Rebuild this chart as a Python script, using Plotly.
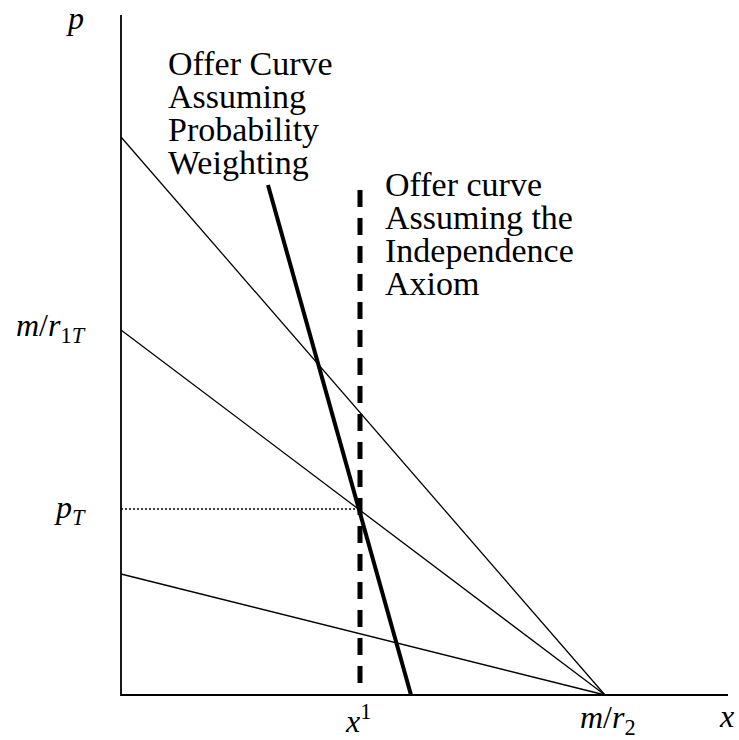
import plotly.graph_objects as go

# ---- data (schematic units: origin at axis corner) ----
m_over_r2 = 484                      # common x-intercept of budget lines
budget_p_intercepts = [558, 365, 121]  # p-intercepts of the three budget lines
x_prime = 239                         # x' (independence axiom offer curve)
p_T = 186                             # p_T
pw_curve_x = [147, 290]               # offer curve assuming probability weighting
pw_curve_y = [510, 0]
ia_curve_top = 505                    # top of dashed offer curve
x_axis_end = 607
y_axis_end = 680

tick_x_labels = ["<i>x</i><sup>1</sup>", "<i>m</i>/<i>r</i><sub>2</sub>", "<i>x</i>"]
tick_y_labels = ["<i>p</i>", "<i>m</i>/<i>r</i><sub>1<i>T</i></sub>", "<i>p<sub>T</sub></i>"]
label_pw = ["Offer Curve", "Assuming", "Probability", "Weighting"]
label_ia = ["Offer curve", "Assuming the", "Independence", "Axiom"]

fig = go.Figure()

# axes
fig.add_trace(go.Scatter(x=[0, 0, x_axis_end], y=[y_axis_end, 0, 0], mode="lines",
                         line=dict(color="black", width=1.8), hoverinfo="skip"))

# budget lines
for b in budget_p_intercepts:
    fig.add_trace(go.Scatter(x=[0, m_over_r2], y=[b, 0], mode="lines",
                             line=dict(color="black", width=1.3), hoverinfo="skip"))

# dotted p_T line
fig.add_trace(go.Scatter(x=[0, x_prime], y=[p_T, p_T], mode="lines",
                         line=dict(color="black", width=1.5, dash="2px,2px"), hoverinfo="skip"))

# dashed independence-axiom offer curve
fig.add_trace(go.Scatter(x=[x_prime, x_prime], y=[ia_curve_top, 0], mode="lines",
                         line=dict(color="black", width=5, dash="17px,11px"), hoverinfo="skip"))

# thick probability-weighting offer curve
fig.add_trace(go.Scatter(x=pw_curve_x, y=pw_curve_y, mode="lines",
                         line=dict(color="black", width=4), hoverinfo="skip"))

serif = "Liberation Serif, DejaVu Serif, serif"
text_size = 34
math_size = 32

# axis/tick labels
fig.add_annotation(x=-46, y=677, text=tick_y_labels[0], showarrow=False,
                   font=dict(family=serif, size=math_size, color="black"))
fig.add_annotation(x=-33, y=368, text=tick_y_labels[1], showarrow=False, xanchor="right",
                   font=dict(family=serif, size=math_size, color="black"))
fig.add_annotation(x=-33, y=p_T, text=tick_y_labels[2], showarrow=False, xanchor="right",
                   font=dict(family=serif, size=math_size, color="black"))
fig.add_annotation(x=x_prime - 2, y=-24, text=tick_x_labels[0], showarrow=False,
                   font=dict(family=serif, size=math_size, color="black"))
fig.add_annotation(x=m_over_r2 + 3, y=-24, text=tick_x_labels[1], showarrow=False,
                   font=dict(family=serif, size=math_size, color="black"))
fig.add_annotation(x=605, y=-21, text=tick_x_labels[2], showarrow=False,
                   font=dict(family=serif, size=math_size, color="black"))

# offer curve labels
for i, t in enumerate(label_pw):
    fig.add_annotation(x=45, y=632 - 33 * i, text=t, showarrow=False, xanchor="left",
                       font=dict(family=serif, size=text_size, color="black"))
for i, t in enumerate(label_ia):
    fig.add_annotation(x=262, y=511 - 33 * i, text=t, showarrow=False, xanchor="left",
                       font=dict(family=serif, size=text_size, color="black"))

fig.update_layout(
    width=739, height=740,
    margin=dict(l=0, r=0, t=0, b=0),
    paper_bgcolor="white", plot_bgcolor="white",
    showlegend=False,
    xaxis=dict(range=[-121, 618], visible=False, fixedrange=True),
    yaxis=dict(range=[-45, 695], visible=False, fixedrange=True),
)

fig.write_html("out.html", post_script="document.body.style.margin='0';",
               config={"displayModeBar": False})
